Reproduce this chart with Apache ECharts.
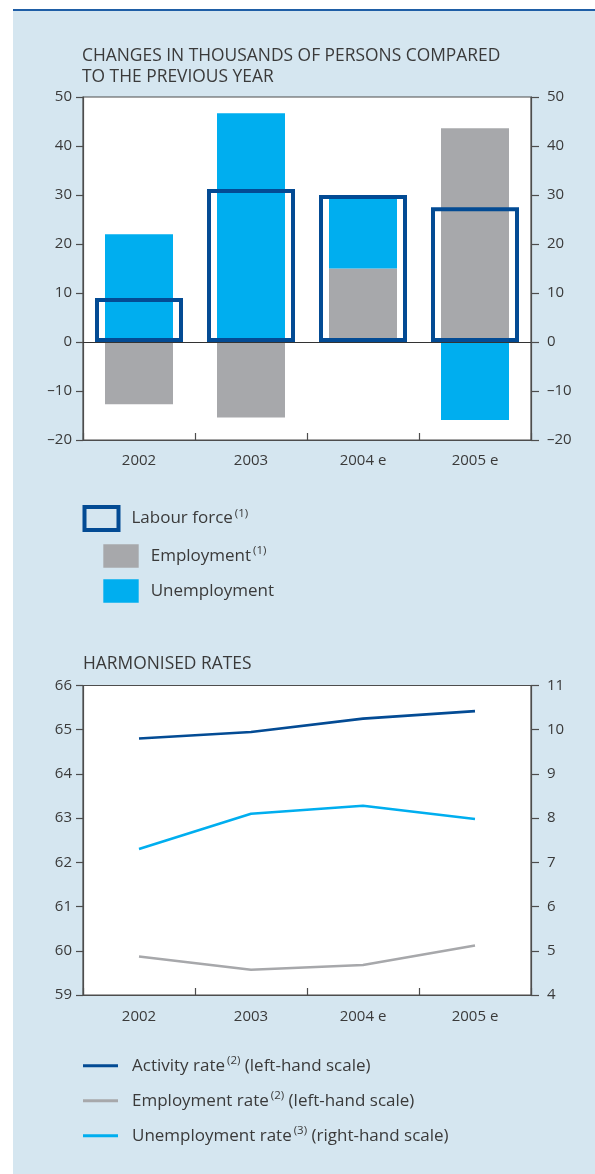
<!DOCTYPE html>
<html>
<head>
<meta charset="utf-8">
<script src="https://cdn.jsdelivr.net/npm/echarts@6/dist/echarts.min.js"></script>
<style>
  html, body { margin: 0; padding: 0; background: #ffffff; }
  #chart { width: 595px; height: 1174px; }
</style>
</head>
<body>
<div id="chart"></div>
<script>
// Categories shared by both panels
const years = ['2002', '2003', '2004 e', '2005 e'];

// Upper panel: changes in thousands of persons compared to the previous year
const labourForce = [9, 31.2, 30, 27.5];
const employment = [-12.7, -15.4, 15, 43.6];
const unemployment = [22, 46.7, 15, -15.9];

// Lower panel: harmonised rates
const activityRate = [64.8, 64.95, 65.25, 65.42];
const employmentRate = [59.87, 59.57, 59.68, 60.12];
const unemploymentRate = [7.3, 8.1, 8.28, 7.98];

const FONT = '"Open Sans", "Noto Sans", sans-serif';
const TXT = '#3a3a3a';
const AX = '#4d4d4d';
const DARK = '#034b94';
const CYAN = '#00aeef';
const GREY = '#a7a8ab';
const BG = '#d5e6f0';

const dashNum = v => (v < 0 ? '\u2013' + (-v) : String(v));

const legendRich = {
  t: { fontFamily: FONT, fontSize: 17, color: TXT, lineHeight: 22 },
  s: { fontFamily: FONT, fontSize: 11.5, color: TXT, lineHeight: 14, verticalAlign: 'top', padding: [0, 0, 0, 2] }
};

function valueAxis(grid, pos, min, max, interval, margin, tickLen) {
  return {
    type: 'value', gridIndex: grid, position: pos,
    min: min, max: max, interval: interval,
    axisLine: { show: true, onZero: false, lineStyle: { color: AX, width: 1.2 } },
    axisTick: { show: true, inside: false, length: tickLen, lineStyle: { color: AX, width: 1.2 } },
    axisLabel: { color: TXT, fontFamily: FONT, fontSize: 15, margin: margin, formatter: dashNum },
    splitLine: { show: false }
  };
}

function catAxis(grid, margin) {
  return {
    type: 'category', gridIndex: grid, data: years, position: 'bottom',
    axisLine: { show: true, onZero: false, lineStyle: { color: AX, width: 1.2 } },
    axisTick: { show: true, inside: true, length: 7, lineStyle: { color: AX, width: 1.2 } },
    axisLabel: { color: TXT, fontFamily: FONT, fontSize: 15, margin: margin },
    splitLine: { show: false }
  };
}

const legendText = {
  'Labour force': '{t|Labour force}{s|(1)}',
  'Employment': '{t|Employment}{s|(1)}',
  'Unemployment': '{t|Unemployment}',
  'Activity rate': '{t|Activity rate}{s|(2)}{t| (left-hand scale)}',
  'Employment rate': '{t|Employment rate}{s|(2)}{t| (left-hand scale)}',
  'Unemployment rate': '{t|Unemployment rate}{s|(3)}{t| (right-hand scale)}'
};

function legendBox(name, left, top, w, h, pad, extra) {
  return Object.assign({
    data: [name], left: left, top: top, padding: 0,
    itemWidth: w, itemHeight: h, icon: 'rect', selectedMode: false,
    textStyle: { padding: [0, 0, 0, pad], rich: legendRich },
    formatter: n => legendText[n]
  }, extra || {});
}

const chart = echarts.init(document.getElementById('chart'), null, { renderer: 'canvas' });

chart.setOption({
  animation: false,
  graphic: [
    { type: 'rect', z: -10, shape: { x: 13, y: 11, width: 582, height: 1163 }, style: { fill: BG } },
    { type: 'rect', z: -9, shape: { x: 13, y: 9, width: 582, height: 2 }, style: { fill: '#1f5ea6' } }
  ],
  title: [
    {
      text: 'CHANGES IN THOUSANDS OF PERSONS COMPARED\nTO THE PREVIOUS YEAR',
      left: 82, top: 46, padding: 0,
      textStyle: { fontFamily: FONT, fontSize: 17.4, fontWeight: 'normal', color: TXT, lineHeight: 21 }
    },
    {
      text: 'HARMONISED RATES',
      left: 83, top: 654, padding: 0,
      textStyle: { fontFamily: FONT, fontSize: 17.4, fontWeight: 'normal', color: TXT, lineHeight: 21 }
    }
  ],
  legend: [
    legendBox('Labour force', 82.5, 505, 34, 23, 8,
      { itemStyle: { color: 'rgba(0,0,0,0)', borderColor: DARK, borderWidth: 4 } }),
    legendBox('Employment', 103.3, 544.3, 35.4, 23.4, 7),
    legendBox('Unemployment', 103.3, 579.3, 35.4, 23.4, 7),
    legendBox('Activity rate', 83, 1054.7, 35, 3, 9),
    legendBox('Employment rate', 83, 1089.7, 35, 3, 9),
    legendBox('Unemployment rate', 83, 1124.7, 35, 3, 9)
  ],
  grid: [
    { left: 83, right: 64, top: 97, height: 343, show: true, backgroundColor: '#ffffff', borderColor: AX, borderWidth: 1.2 },
    { left: 83, right: 64, top: 685.5, height: 309.5, show: true, backgroundColor: '#ffffff', borderColor: AX, borderWidth: 1.2 }
  ],
  xAxis: [
    catAxis(0, 13),
    // independent band layout for the wider labour-force outlines
    { type: 'category', gridIndex: 0, data: years, show: false },
    catAxis(1, 14)
  ],
  yAxis: [
    valueAxis(0, 'left', -20, 50, 10, 11, 7),
    valueAxis(0, 'right', -20, 50, 10, 16, 8),
    valueAxis(1, 'left', 59, 66, 1, 11, 7),
    valueAxis(1, 'right', 4, 11, 1, 16, 8)
  ],
  series: [
    {
      name: 'Employment', type: 'bar', xAxisIndex: 0, yAxisIndex: 0,
      stack: 'change', barWidth: 68, data: employment,
      itemStyle: { color: GREY }
    },
    {
      name: 'Unemployment', type: 'bar', xAxisIndex: 0, yAxisIndex: 0,
      stack: 'change', barWidth: 68, data: unemployment,
      itemStyle: { color: CYAN }
    },
    {
      name: 'Labour force', type: 'bar', xAxisIndex: 1, yAxisIndex: 0,
      barWidth: 88, data: labourForce, z: 4,
      itemStyle: { color: 'rgba(0,0,0,0)', borderColor: DARK, borderWidth: 4 },
      markLine: {
        silent: true, symbol: ['none', 'none'], label: { show: false },
        lineStyle: { color: '#333333', width: 1, type: 'solid' },
        data: [{ yAxis: 0 }]
      }
    },
    {
      name: 'Activity rate', type: 'line', xAxisIndex: 2, yAxisIndex: 2,
      data: activityRate, symbol: 'none', itemStyle: { color: DARK },
      lineStyle: { color: DARK, width: 2.6 }
    },
    {
      name: 'Employment rate', type: 'line', xAxisIndex: 2, yAxisIndex: 2,
      data: employmentRate, symbol: 'none', itemStyle: { color: GREY },
      lineStyle: { color: GREY, width: 2.6 }
    },
    {
      name: 'Unemployment rate', type: 'line', xAxisIndex: 2, yAxisIndex: 3,
      data: unemploymentRate, symbol: 'none', itemStyle: { color: CYAN },
      lineStyle: { color: CYAN, width: 2.6 }
    }
  ]
});
</script>
</body>
</html>
